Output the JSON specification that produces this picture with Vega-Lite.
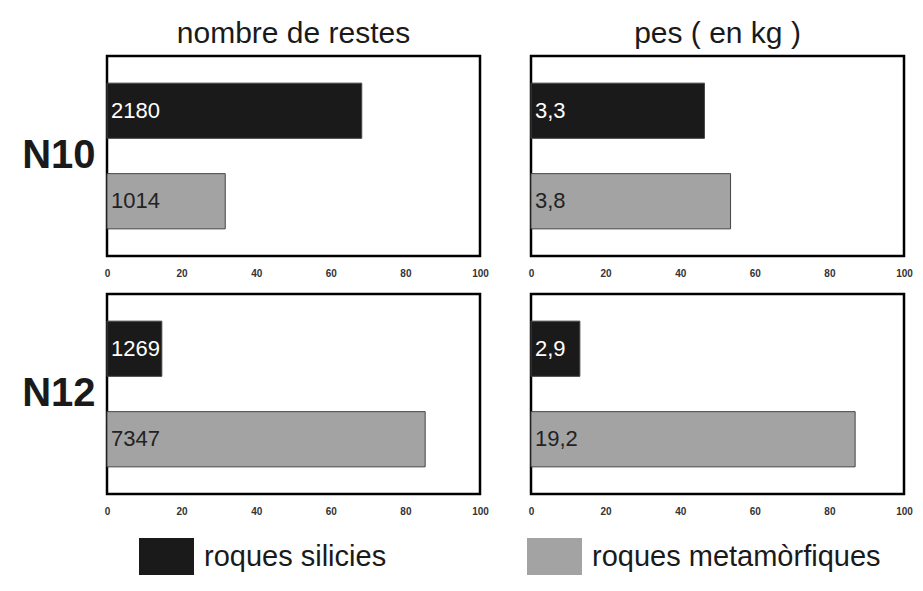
{
  "$schema": "https://vega.github.io/schema/vega-lite/v6.json",
  "padding": {"left": 22, "top": 19, "right": 10, "bottom": 10},
  "background": "white",
  "data": {"values": [
    {"grup": "N10", "mesura": "nombre de restes", "tipus": "roques silicies", "pct": 68.3, "etiqueta": "2180"},
    {"grup": "N10", "mesura": "nombre de restes", "tipus": "roques metamòrfiques", "pct": 31.7, "etiqueta": "1014"},
    {"grup": "N10", "mesura": "pes ( en kg )", "tipus": "roques silicies", "pct": 46.5, "etiqueta": "3,3"},
    {"grup": "N10", "mesura": "pes ( en kg )", "tipus": "roques metamòrfiques", "pct": 53.5, "etiqueta": "3,8"},
    {"grup": "N12", "mesura": "nombre de restes", "tipus": "roques silicies", "pct": 14.7, "etiqueta": "1269"},
    {"grup": "N12", "mesura": "nombre de restes", "tipus": "roques metamòrfiques", "pct": 85.3, "etiqueta": "7347"},
    {"grup": "N12", "mesura": "pes ( en kg )", "tipus": "roques silicies", "pct": 13.1, "etiqueta": "2,9"},
    {"grup": "N12", "mesura": "pes ( en kg )", "tipus": "roques metamòrfiques", "pct": 86.9, "etiqueta": "19,2"}
  ]},
  "facet": {
    "row": {"field": "grup", "type": "nominal", "title": null,
      "header": {"labelAngle": 0, "labelFontSize": 40, "labelFontWeight": "bold", "labelFont": "Liberation Sans", "labelPadding": -67, "labelColor": "#1a1a1a"}},
    "column": {"field": "mesura", "type": "nominal", "title": null,
      "sort": ["nombre de restes", "pes ( en kg )"],
      "header": {"labelFontSize": 30, "labelFont": "Liberation Sans", "labelPadding": 5, "labelColor": "#1a1a1a"}}
  },
  "spacing": {"row": 12, "column": 36},
  "resolve": {"axis": {"x": "independent"}},
  "spec": {
    "width": 373,
    "height": 200,
    "layer": [
      {
        "mark": {"type": "bar", "stroke": "#444", "strokeWidth": 1},
        "encoding": {
          "x": {"field": "pct", "type": "quantitative", "scale": {"domain": [0, 100]},
            "axis": {"values": [0, 20, 40, 60, 80, 100], "grid": false, "domain": false, "ticks": false, "labelFlush": false, "labelFontSize": 10, "labelFontWeight": "bold", "labelPadding": 12, "labelColor": "#333", "title": null}},
          "y": {"field": "tipus", "type": "nominal", "sort": ["roques silicies", "roques metamòrfiques"],
            "scale": {"paddingInner": 0.39, "paddingOuter": 0.3}, "axis": null},
          "color": {"field": "tipus", "type": "nominal",
            "scale": {"domain": ["roques silicies", "roques metamòrfiques"], "range": ["#1a1a1a", "#a3a3a3"]},
            "legend": {"orient": "none", "legendX": 32, "legendY": 473, "direction": "horizontal", "title": null,
              "symbolType": "M-1,-0.67H1V0.67H-1Z", "symbolSize": 3025, "symbolStrokeWidth": 0,
              "labelFontSize": 29, "labelFont": "Liberation Sans", "labelColor": "#1a1a1a", "labelOffset": 10, "labelLimit": 500, "columnPadding": 140}}
        }
      },
      {
        "mark": {"type": "text", "align": "left", "baseline": "middle", "dx": 4, "fontSize": 22, "font": "Liberation Sans"},
        "encoding": {
          "x": {"datum": 0, "type": "quantitative"},
          "y": {"field": "tipus", "type": "nominal", "sort": ["roques silicies", "roques metamòrfiques"], "axis": null},
          "text": {"field": "etiqueta"},
          "color": {"condition": {"test": "datum.tipus === 'roques silicies'", "value": "white"}, "value": "#222"}
        }
      }
    ]
  },
  "config": {
    "view": {"stroke": "black", "strokeWidth": 2.5},
    "font": "Liberation Sans"
  }
}
